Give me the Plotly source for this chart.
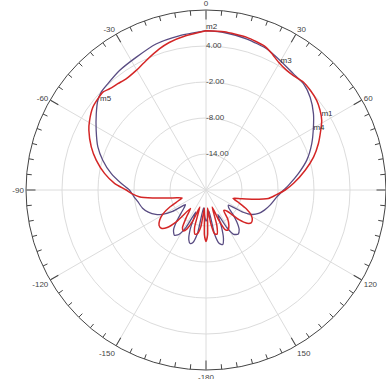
import plotly.graph_objects as go

# Gain pattern (dB) versus angle (deg, clockwise from boresight)
red_theta_right = [0, 6.5, 15, 22, 25.5, 29.6, 34, 37.4, 42, 46.3, 51, 55, 59, 62.5, 67.5, 73, 78.7,
                   85.6, 90, 94, 97.7, 101, 104, 107, 111, 115, 119, 123, 126, 129, 132, 135, 139,
                   143, 147, 151, 154, 157, 160, 163, 166, 169, 172, 175, 178, 180]
red_db_right = [6.55, 6.53, 6.33, 5.9, 5.3, 4.5, 4.05, 4.0, 4.23, 4.05, 3.73, 3.2, 2.5, 1.56, 0.28,
                -1.26, -3.14, -5.36, -6.8, -8.3, -9.5, -11.9, -14.0, -15.3, -14.2, -12.6, -11.4,
                -10.8, -10.7, -11.2, -12.6, -15.0, -15.5, -14.0, -13.0, -12.4, -12.6, -14.5, -17.0,
                -13.8, -12.4, -12.6, -14.5, -17.0, -12.5, -11.4]
red_theta_left = [-180, -178, -175, -172, -169, -166, -163, -160, -157, -154, -151, -148, -144, -140,
                  -137, -134, -130.5, -127, -123, -119, -115, -111.5, -108.5, -105, -102.2, -98.5,
                  -95.7, -93, -90, -85.8, -80.7, -74.8, -69.4, -63, -59.1, -53.8, -49.8, -46.5, -43.6,
                  -39.7, -35.7, -30.4, -24.9, -18.3, -14, -7.5, 0]
red_db_left = [-11.4, -12.5, -17.0, -13.8, -12.6, -12.4, -13.5, -17.0, -14.5, -12.8, -12.2, -12.6,
               -14.5, -16.0, -12.8, -11.0, -10.2, -10.2, -10.8, -11.8, -13.4, -15.0, -15.8, -15.0,
               -13.7, -11.0, -8.8, -7.7, -6.7, -4.71, -2.86, -1.04, 0.43, 1.91, 2.61, 3.37, 3.58,
               3.70, 3.30, 3.02, 2.82, 3.07, 3.76, 4.76, 5.34, 5.92, 6.55]

blue_theta_right = [0, 6.5, 15.2, 23.4, 29.9, 37, 42.6, 48.3, 54.6, 59.6, 66.3, 73.5, 79.8, 86.6, 90,
                    96, 103, 109, 114, 118, 121, 124, 128, 132, 136, 140, 144, 148, 151, 154, 157,
                    160, 163, 166, 169, 172, 176, 180]
blue_db_right = [6.55, 6.42, 6.07, 5.6, 4.86, 4.24, 4.03, 3.25, 1.97, 0.76, -0.75, -2.48, -4.33, -6.2,
                 -7.06, -8.2, -9.0, -9.7, -10.4, -11.3, -12.8, -15.5, -15.2, -14.0, -12.6, -11.4,
                 -10.9, -11.3, -12.8, -15.5, -13.5, -11.5, -10.5, -10.8, -12.5, -16.5, -15.5, -14.8]
blue_theta_left = [-180, -176, -172, -169, -166, -163.5, -161, -158, -155, -152, -148.5, -145, -141,
                   -137, -133, -129, -125.5, -122.5, -119, -116, -111, -106, -100, -95, -90, -85.5,
                   -80.1, -73.9, -68.3, -61.5, -55.2, -50.4, -47, -42.8, -35.9, -27.8, -18.9, -9.9, 0]
blue_db_left = [-14.8, -16.0, -17.0, -12.8, -11.0, -10.7, -11.2, -13.0, -16.0, -13.0, -11.3, -10.8,
                -11.4, -12.8, -14.3, -15.3, -15.8, -13.4, -11.6, -10.7, -9.7, -9.0, -8.5, -7.9, -7.23,
                -5.81, -3.95, -2.09, -0.6, 0.83, 2.27, 3.40, 3.90, 4.11, 4.58, 4.99, 5.72, 6.09, 6.55]

# Marker labels: (name, angle, curve)
marker_names = ["m1", "m2", "m3", "m4", "m5"]
marker_theta = [58, 0, 30, 60, -48]
marker_curve = ["red", "blue", "blue", "blue", "blue"]

r_min, r_max = -20, 10
ring_vals = [-14, -8, -2, 4]
angle_major = [0, 30, 60, 90, 120, 150, 180, 210, 240, 270, 300, 330]
angle_text = ["0", "30", "60", "90", "120", "150", "-180", "-150", "-120", "-90", "-60", "-30"]

RED = "#d42626"
BLUE = "#594c82"
FONT = "Liberation Sans, Arial, sans-serif"


def interp(thetas, vals, t):
    for i in range(len(thetas) - 1):
        a, b = thetas[i], thetas[i + 1]
        if a <= t <= b:
            f = 0 if b == a else (t - a) / (b - a)
            return vals[i] + f * (vals[i + 1] - vals[i])
    return vals[-1]


red_theta = red_theta_left + red_theta_right
red_db = red_db_left + red_db_right
blue_theta = blue_theta_left + blue_theta_right
blue_db = blue_db_left + blue_db_right

fig = go.Figure()

# Minor angular ticks every 5 degrees, pointing inward from the outer circle
tick_r, tick_t = [], []
for a in range(0, 360, 5):
    if a % 30 == 0:
        continue
    tick_r += [r_max, r_max - 0.85, None]
    tick_t += [a, a, None]
fig.add_trace(go.Scatterpolar(r=tick_r, theta=tick_t, mode="lines",
                              line=dict(color="#444444", width=1), hoverinfo="skip",
                              showlegend=False))

# Ring value labels along the 0 degree spoke
fig.add_trace(go.Scatterpolar(r=ring_vals, theta=[0] * len(ring_vals), mode="text",
                              text=["%.2f" % v for v in ring_vals], textposition="middle right",
                              textfont=dict(family=FONT, size=8, color="#444444"),
                              showlegend=False, hoverinfo="skip"))

fig.add_trace(go.Scatterpolar(r=blue_db, theta=blue_theta, mode="lines",
                              line=dict(color=BLUE, width=1.3, shape="spline", smoothing=0.6),
                              showlegend=False))
fig.add_trace(go.Scatterpolar(r=red_db, theta=red_theta, mode="lines",
                              line=dict(color=RED, width=1.5, shape="spline", smoothing=0.6),
                              showlegend=False))

# Marker text labels placed on the traces
mk_r = []
for name, t, c in zip(marker_names, marker_theta, marker_curve):
    th, db = (red_theta, red_db) if c == "red" else (blue_theta, blue_db)
    mk_r.append(interp(th, db, t))
fig.add_trace(go.Scatterpolar(r=mk_r, theta=marker_theta, mode="text", text=marker_names,
                              textposition=["top right", "top right", "middle right",
                                            "middle right", "bottom right"],
                              textfont=dict(family=FONT, size=8, color="#333333"),
                              showlegend=False, hoverinfo="skip"))

fig.update_layout(
    width=386, height=379,
    margin=dict(l=0, r=0, t=0, b=0),
    paper_bgcolor="white",
    font=dict(family=FONT, size=8, color="#444444"),
    polar=dict(
        domain=dict(x=[26 / 386, 1.0], y=[9 / 379, 369 / 379]),
        bgcolor="white",
        radialaxis=dict(
            range=[r_min, r_max], angle=90,
            tickmode="array", tickvals=ring_vals, showticklabels=False,
            showline=False, ticks="", gridcolor="#dcdcdc", gridwidth=1,
        ),
        angularaxis=dict(
            rotation=90, direction="clockwise",
            tickmode="array", tickvals=angle_major, ticktext=angle_text,
            ticks="inside", ticklen=9, tickcolor="#444444", tickwidth=1,
            showline=True, linecolor="#444444", linewidth=1,
            gridcolor="#dcdcdc", gridwidth=1,
            tickfont=dict(family=FONT, size=8, color="#444444"),
        ),
    ),
)

fig.write_html("out.html")
